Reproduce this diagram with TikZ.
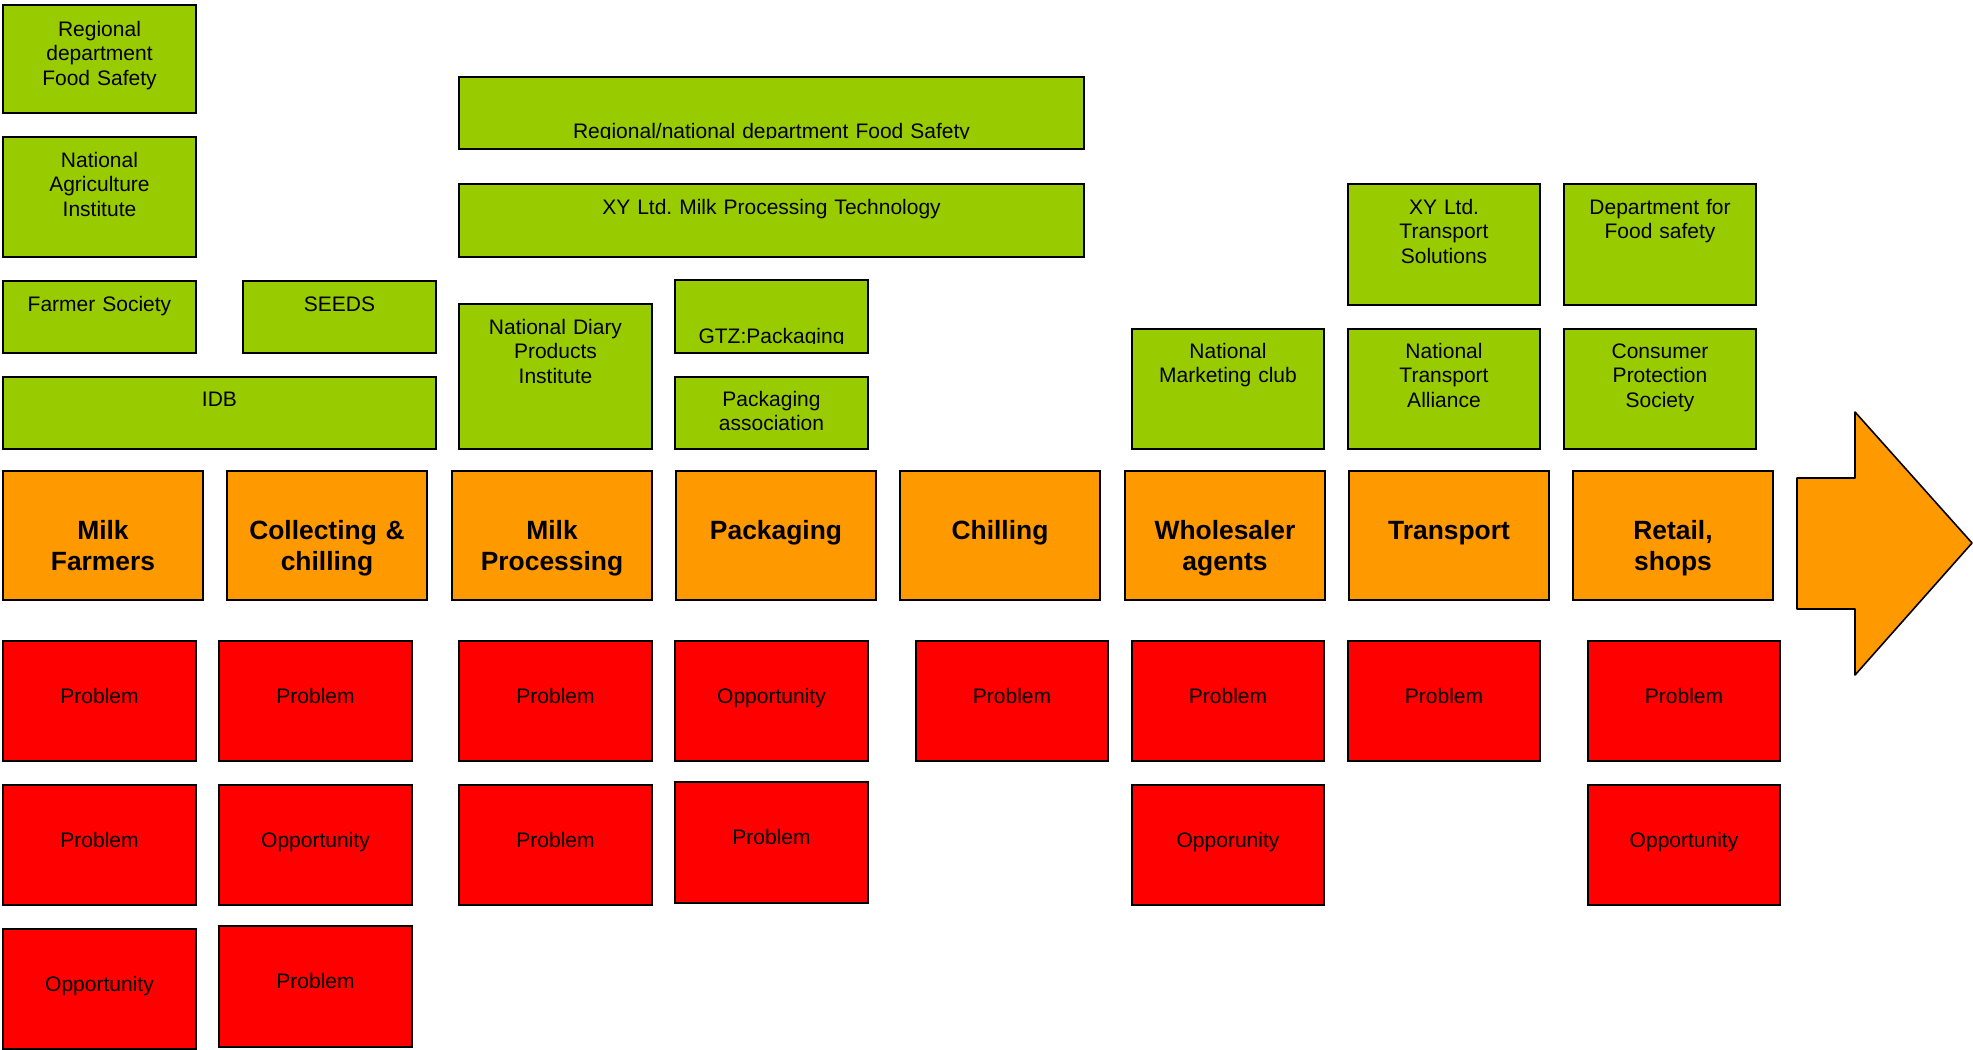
\documentclass[tikz,border=0pt]{standalone}
\usepackage{fontspec}
\setmainfont{Liberation Sans}
\usetikzlibrary{calc}
\frenchspacing

\definecolor{actorgreen}{HTML}{99CC00}
\definecolor{stageorange}{HTML}{FF9900}
\definecolor{issuered}{HTML}{FF0000}

% #1 box style, #2 text style, #3 name, #4 x1, #5 y1, #6 x2, #7 y2,
% #8 offset of the first baseline below the top edge, #9 text
\newcommand\cellbox[9]{%
  \node[#1, minimum width={(#6-#4)*0.5pt}, minimum height={(#7-#5)*0.5pt}]
    (#3) at ({(#4+#6)/2},{(#5+#7)/2}) {};
  \node[#2, anchor=base] (#3-t) at ($(#3.north)+(0,#8)$) {#9};
}

\tikzset{
  boxbase/.style={draw=black, line width=1pt, inner sep=0pt, outer sep=0pt, rectangle},
  actor/.style={boxbase, fill=actorgreen},
  stage/.style={boxbase, fill=stageorange},
  issue/.style={boxbase, fill=issuered},
  plaintext/.style={inner sep=0pt, outer sep=0pt, align=center, text width=330pt,
    font=\fontsize{10.5}{12.3}\selectfont},
  stagetext/.style={inner sep=0pt, outer sep=0pt, align=center, text width=330pt,
    font=\fontsize{13.2}{15.7}\selectfont\bfseries},
}

\begin{document}
\begin{tikzpicture}[x=0.5pt, y=-0.5pt]
\useasboundingbox (0,0) rectangle (1973,1049);

% ---------- supporting organisations ----------
\cellbox{actor}{plaintext}{rdfs}{3}{5}{196}{113}{31}{Regional\\department\\Food Safety}
\cellbox{actor}{plaintext}{nai}{3}{137}{196}{257}{30}{National\\Agriculture\\Institute}
\cellbox{actor}{plaintext}{fs}{3}{281}{196}{353}{30}{Farmer Society}
\cellbox{actor}{plaintext}{seeds}{243}{281}{436}{353}{30}{SEEDS}
\cellbox{actor}{plaintext}{idb}{3}{377}{436}{449}{29}{IDB}

% wide box whose text sits low and is cut by the text frame
\node[actor, minimum width={(1084-459)*0.5pt}, minimum height={(149-77)*0.5pt}]
  (rnfs) at ({(459+1084)/2},{(77+149)/2}) {};
\begin{scope}
  \clip (459,77) rectangle (1084,138.6);
  \node[plaintext, anchor=base] (rnfs-t) at ($(rnfs.north)+(0,61)$)
    {Regional/national department Food Safety};
\end{scope}

\cellbox{actor}{plaintext}{xymp}{459}{184}{1084}{257}{30}{XY Ltd. Milk Processing Technology}
\cellbox{actor}{plaintext}{ndpi}{459}{304}{652}{449}{30}{National Diary\\Products\\Institute}

\node[actor, minimum width={(868-675)*0.5pt}, minimum height={(353-280)*0.5pt}]
  (gtz) at ({(675+868)/2},{(280+353)/2}) {};
\begin{scope}
  \clip (675,280) rectangle (868,343.6);
  \node[plaintext, anchor=base] (gtz-t) at ($(gtz.north)+(0,63)$) {GTZ:Packaging};
\end{scope}

\cellbox{actor}{plaintext}{pa}{675}{377}{868}{449}{29}{Packaging\\association}
\cellbox{actor}{plaintext}{nmc}{1132}{329}{1324}{449}{29}{National\\Marketing club}
\cellbox{actor}{plaintext}{xyts}{1348}{184}{1540}{305}{30}{XY Ltd.\\Transport\\Solutions}
\cellbox{actor}{plaintext}{nta}{1348}{329}{1540}{449}{29}{National\\Transport\\Alliance}
\cellbox{actor}{plaintext}{dfs}{1564}{184}{1756}{305}{30}{Department for\\Food safety}
\cellbox{actor}{plaintext}{cps}{1564}{329}{1756}{449}{29}{Consumer\\Protection\\Society}

% ---------- value chain stages ----------
\cellbox{stage}{stagetext}{s1}{3}{471}{203}{600}{68}{Milk\\Farmers}
\cellbox{stage}{stagetext}{s2}{227}{471}{427}{600}{68}{Collecting \&\\chilling}
\cellbox{stage}{stagetext}{s3}{452}{471}{652}{600}{68}{Milk\\Processing}
\cellbox{stage}{stagetext}{s4}{676}{471}{876}{600}{68}{Packaging}
\cellbox{stage}{stagetext}{s5}{900}{471}{1100}{600}{68}{Chilling}
\cellbox{stage}{stagetext}{s6}{1125}{471}{1325}{600}{68}{Wholesaler\\agents}
\cellbox{stage}{stagetext}{s7}{1349}{471}{1549}{600}{68}{Transport}
\cellbox{stage}{stagetext}{s8}{1573}{471}{1773}{600}{68}{Retail,\\shops}

% direction of the chain
\draw[fill=stageorange, draw=black, line width=0.8pt, line join=round]
  (1797,478) -- (1855,478) -- (1855,412) -- (1972,543) -- (1855,675)
  -- (1855,609) -- (1797,609) -- cycle;

% ---------- problems and opportunities ----------
\cellbox{issue}{plaintext}{p11}{3}{641}{196}{761}{62}{Problem}
\cellbox{issue}{plaintext}{p12}{3}{785}{196}{905}{62}{Problem}
\cellbox{issue}{plaintext}{p13}{3}{929}{196}{1049}{62}{Opportunity}

\cellbox{issue}{plaintext}{p21}{219}{641}{412}{761}{62}{Problem}
\cellbox{issue}{plaintext}{p22}{219}{785}{412}{905}{62}{Opportunity}
\cellbox{issue}{plaintext}{p23}{219}{926}{412}{1047}{62}{Problem}

\cellbox{issue}{plaintext}{p31}{459}{641}{652}{761}{62}{Problem}
\cellbox{issue}{plaintext}{p32}{459}{785}{652}{905}{62}{Problem}

\cellbox{issue}{plaintext}{p41}{675}{641}{868}{761}{62}{Opportunity}
\cellbox{issue}{plaintext}{p42}{675}{782}{868}{903}{62}{Problem}

\cellbox{issue}{plaintext}{p51}{916}{641}{1108}{761}{62}{Problem}

\cellbox{issue}{plaintext}{p61}{1132}{641}{1324}{761}{62}{Problem}
\cellbox{issue}{plaintext}{p62}{1132}{785}{1324}{905}{62}{Opporunity}

\cellbox{issue}{plaintext}{p71}{1348}{641}{1540}{761}{62}{Problem}

\cellbox{issue}{plaintext}{p81}{1588}{641}{1780}{761}{62}{Problem}
\cellbox{issue}{plaintext}{p82}{1588}{785}{1780}{905}{62}{Opportunity}

\end{tikzpicture}
\end{document}
